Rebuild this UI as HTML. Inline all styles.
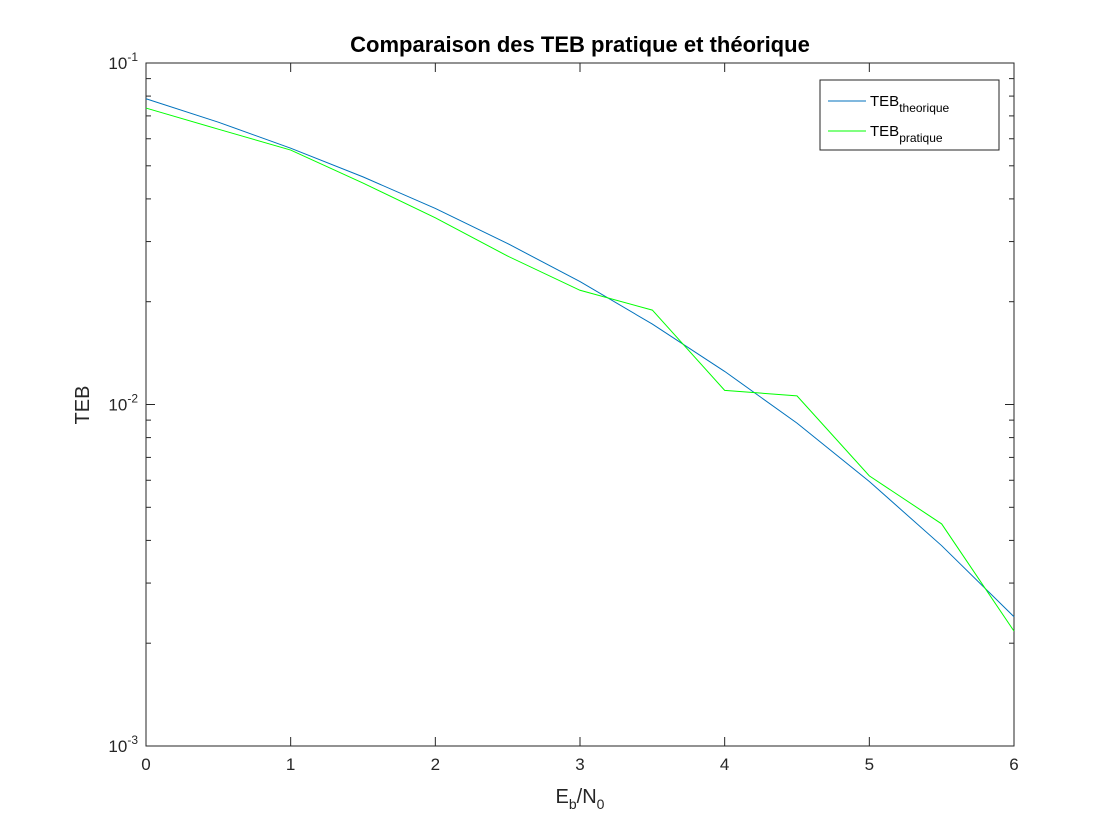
<!DOCTYPE html>
<html><head><meta charset="utf-8"><style>
html,body{margin:0;padding:0;background:#fff;}
svg{display:block;font-family:"Liberation Sans",Arial,sans-serif;}
</style></head><body>
<svg id="chart" width="1120" height="840"></svg>
<script>
const xValues=[0,0.5,1,1.5,2,2.5,3,3.5,4,4.5,5,5.5,6];
const tebTheorique=[0.0786,0.0671,0.0563,0.0464,0.0375,0.0296,0.0229,0.0172,0.0125,0.00882,0.00595,0.00386,0.00239];
const tebPratique=[0.0738,0.064,0.0556,0.0445,0.0352,0.0272,0.0216,0.0189,0.0110,0.0106,0.00618,0.00447,0.00217];
const xTicks=[0,1,2,3,4,5,6];
const yDecades=[-3,-2,-1];
const L=146,R=1014,T=63,B=746;
const sx=v=>L+(v-0)/(6-0)*(R-L);
const sy=v=>B-(Math.log10(v)-(-3))/2*(B-T);
const svg=document.getElementById('chart');
const NS='http://www.w3.org/2000/svg';
function mk(tag,attrs,parent){const e=document.createElementNS(NS,tag);for(const k in attrs)e.setAttribute(k,attrs[k]);(parent||svg).appendChild(e);return e;}
const frame=mk('rect',{x:L,y:T,width:R-L,height:B-T,fill:'#fff',stroke:'#262626','stroke-width':1});


xTicks.forEach(t=>{const x=sx(t);
 mk('line',{x1:x,y1:B,x2:x,y2:B-9,stroke:'#262626'});
 mk('line',{x1:x,y1:T,x2:x,y2:T+9,stroke:'#262626'});
 const tx=mk('text',{x:x,y:B+24,'text-anchor':'middle','font-size':17,fill:'#262626'});tx.textContent=t;
 
 
});
yDecades.forEach(d=>{const y=sy(Math.pow(10,d));
 mk('line',{x1:L,y1:y,x2:L+9,y2:y,stroke:'#262626'});
 mk('line',{x1:R,y1:y,x2:R-9,y2:y,stroke:'#262626'});
 const tx=mk('text',{x:L-8,y:y+6,'text-anchor':'end','font-size':17,fill:'#262626'});
 tx.innerHTML='10<tspan dy="-8" font-size="12">'+d+'</tspan>';
 
 
 if(d<-1){for(let m=2;m<=9;m++){const yy=sy(m*Math.pow(10,d));
  mk('line',{x1:L,y1:yy,x2:L+5,y2:yy,stroke:'#262626'});
  mk('line',{x1:R,y1:yy,x2:R-5,y2:yy,stroke:'#262626'});}}
});
function series(vals,color,name){
 const pts=xValues.map((x,i)=>sx(x)+','+sy(vals[i])).join(' ');
 const p=mk('polyline',{points:pts,fill:'none',stroke:color,'stroke-width':1});
 
 
}
series(tebTheorique,'#0072bd','line-teb-theorique');
series(tebPratique,'#00ff00','line-teb-pratique');
const ti=mk('text',{x:(L+R)/2,y:52,'text-anchor':'middle','font-size':22,'font-weight':'bold',fill:'#000'});
ti.textContent='Comparaison des TEB pratique et théorique';


const xl=mk('text',{x:(L+R)/2,y:803,'text-anchor':'middle','font-size':20,fill:'#262626'});
xl.innerHTML='E<tspan dy="6" font-size="14">b</tspan><tspan dy="-6">/N</tspan><tspan dy="6" font-size="14">0</tspan>';


const yl=mk('text',{x:0,y:0,'text-anchor':'middle','font-size':20,fill:'#262626',transform:'translate(89,405) rotate(-90)'});
yl.textContent='TEB';


const lg=mk('g',{});


mk('rect',{x:820,y:80,width:179,height:70,fill:'#fff',stroke:'#262626'},lg);
[['#0072bd','theorique',101],['#00ff00','pratique',131]].forEach(([c,s,y])=>{
 const g=mk('g',{},lg);
 
 
 mk('line',{x1:828,y1:y,x2:866,y2:y,stroke:c},g);
 const t=mk('text',{x:870,y:y+5,'font-size':15,fill:'#000'},g);
 t.innerHTML='TEB<tspan dy="6" font-size="12">'+s+'</tspan>';
});
</script>
</body></html>
